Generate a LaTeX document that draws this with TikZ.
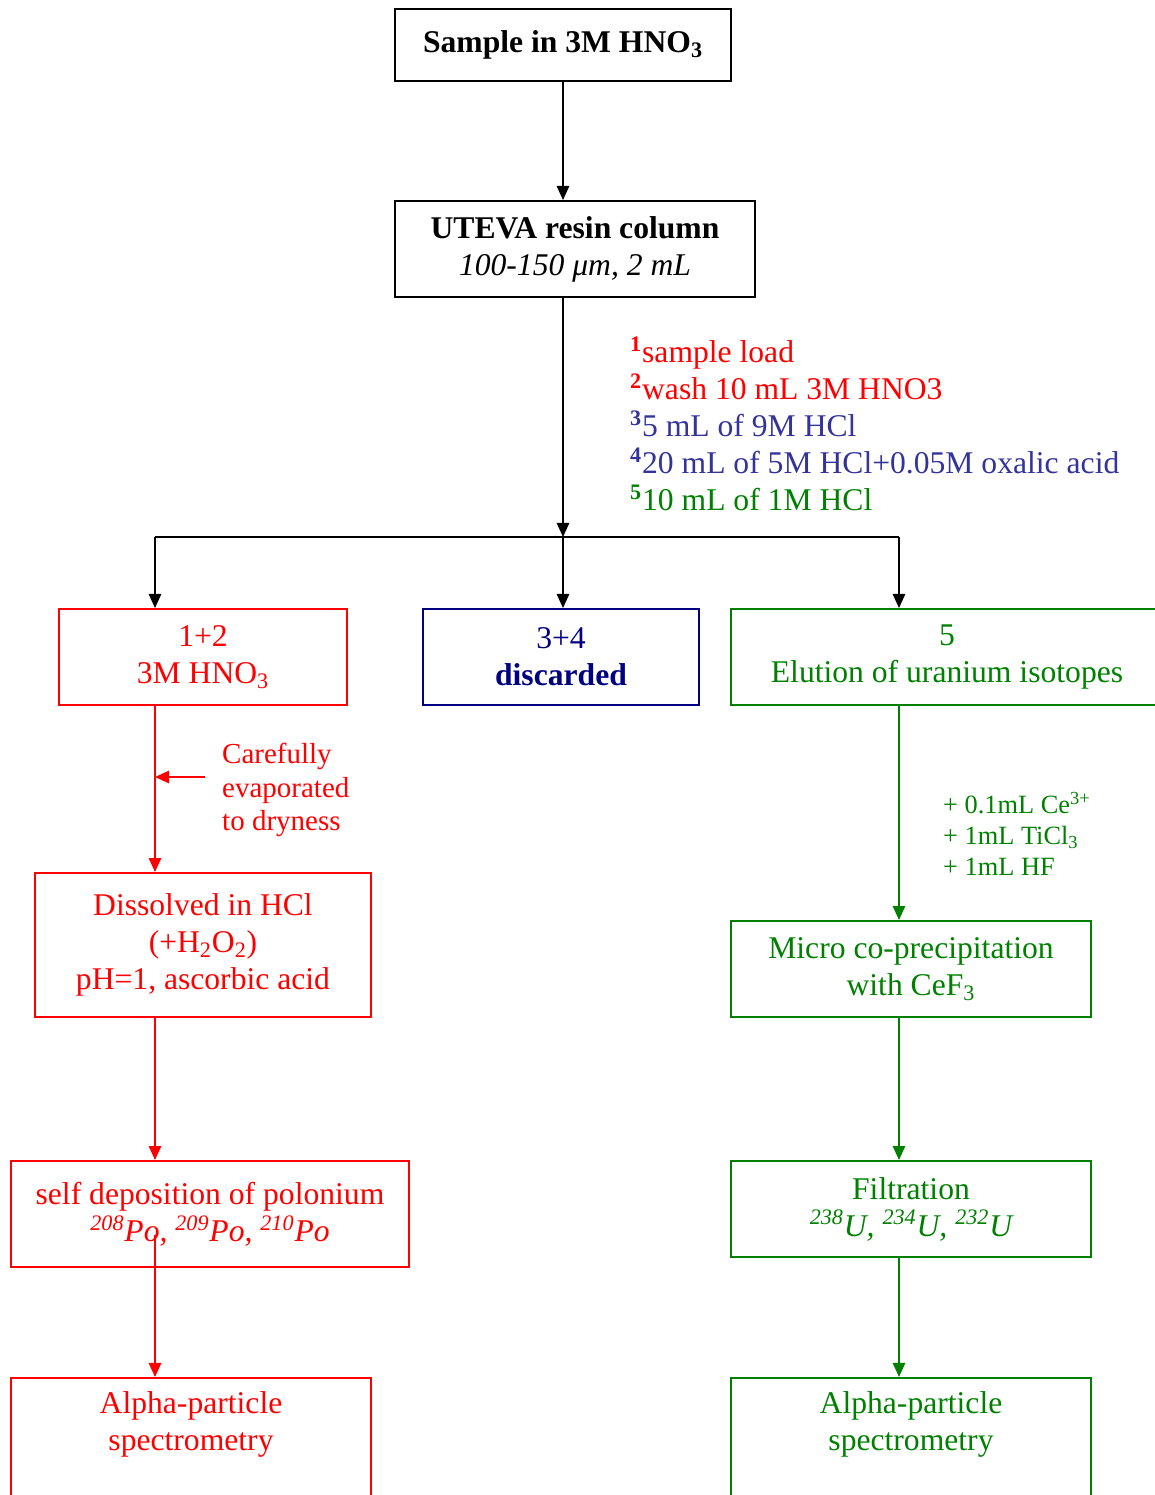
\documentclass[tikz,border=0pt]{standalone}
\usepackage{fontspec}
\setmainfont{Liberation Serif}
\usepackage{xcolor}
\usepackage{tikz}
\usetikzlibrary{arrows.meta, positioning, calc}
\definecolor{pored}{RGB}{255,0,0}
\definecolor{washblue}{RGB}{51,51,153}
\definecolor{discnavy}{RGB}{0,0,128}
\definecolor{ugreen}{RGB}{0,128,0}

\begin{document}
\begin{tikzpicture}[
    x=0.02cm, y=-0.02cm,
    font=\fontsize{18}{21}\selectfont,
    block/.style={rectangle, draw, line width=1.1pt, align=center, inner sep=2pt},
    flow/.style={-{Triangle[length=8pt, width=7pt]}, line width=1.1pt}
]
    \useasboundingbox (0,0) rectangle (1154,1495);

    % Column stage
    \node[block, minimum width=6.72cm, minimum height=1.44cm] (sample) at (563,45) {\textbf{Sample in 3M HNO\textsubscript{3}}};
    \node[block, minimum width=7.2cm, minimum height=1.92cm] (uteva) at (575,249) {\textbf{UTEVA resin column}\\\textit{100-150 μm, 2 mL}};
    \coordinate (split) at (563,537);
    \coordinate (polane) at (155,537);
    \coordinate (ulane) at (899,537);
    \draw[flow] (sample.south) -- (sample.south |- uteva.north);
    \draw[flow] (sample.south |- uteva.south) -- (split);

    % Elution steps
    \node[anchor=west, align=left] (steps) at (624,424) {%
        \textcolor{pored}{\textsuperscript{\textbf{1}}sample load}\\
        \textcolor{pored}{\textsuperscript{\textbf{2}}wash 10 mL 3M HNO3}\\
        \textcolor{washblue}{\textsuperscript{\textbf{3}}5 mL of 9M HCl}\\
        \textcolor{washblue}{\textsuperscript{\textbf{4}}20 mL of 5M HCl+0.05M oxalic acid}\\
        \textcolor{ugreen}{\textsuperscript{\textbf{5}}10 mL of 1M HCl}};

    % Fractions
    \node[block, draw=pored, text=pored, minimum width=5.76cm, minimum height=1.92cm] (frac12) at (203,657) {1+2\\3M HNO\textsubscript{3}};
    \node[block, draw=discnavy, text=discnavy, minimum width=5.52cm, minimum height=1.92cm] (frac34) at (561,657) {3+4\\\textbf{discarded}};
    \node[block, draw=ugreen, text=ugreen, minimum width=8.64cm, minimum height=1.92cm] (frac5) at (947,657) {5\\Elution of uranium isotopes};
    \draw[line width=1.1pt] (polane) -- (ulane);
    \draw[flow] (polane) -- (polane |- frac12.north);
    \draw[flow] (split) -- (split |- frac34.north);
    \draw[flow] (ulane) -- (ulane |- frac5.north);

    % Polonium branch
    \node[block, draw=pored, text=pored, minimum width=6.72cm, minimum height=2.88cm] (dissolved) at (203,945) {Dissolved in HCl\\(+H\textsubscript{2}O\textsubscript{2})\\pH=1, ascorbic acid};
    \node[block, draw=pored, text=pored, minimum width=7.96cm, minimum height=2.12cm] (selfdep) at (210,1214) {self deposition of polonium\\\itshape\textsuperscript{208}Po, \textsuperscript{209}Po, \textsuperscript{210}Po};
    \node[block, draw=pored, text=pored, anchor=north, minimum width=7.2cm, inner ysep=8pt] (alphapo) at (191,1377) {Alpha-particle\\spectrometry\\[42pt]~};
    \coordinate (evap) at (205,777);
    \coordinate (podep) at (155,1235);
    \node[anchor=west, align=left, text=pored, font=\fontsize{16.5}{19}\selectfont] (evaptext) at (216,790) {Carefully\\evaporated\\to dryness};
    \draw[flow, pored] (polane |- frac12.south) -- (polane |- dissolved.north);
    \draw[flow, pored] (evap) -- (evap -| polane);
    \draw[flow, pored] (polane |- dissolved.south) -- (polane |- selfdep.north);
    \draw[flow, pored] (podep) -- (podep |- alphapo.north);

    % Uranium branch
    \node[block, draw=ugreen, text=ugreen, minimum width=7.2cm, minimum height=1.92cm] (micro) at (911,969) {Micro co-precipitation\\with CeF\textsubscript{3}};
    \node[block, draw=ugreen, text=ugreen, minimum width=7.2cm, minimum height=1.92cm] (filtr) at (911,1209) {Filtration\\\itshape\textsuperscript{238}U, \textsuperscript{234}U, \textsuperscript{232}U};
    \node[block, draw=ugreen, text=ugreen, anchor=north, minimum width=7.2cm, inner ysep=8pt] (alphau) at (911,1377) {Alpha-particle\\spectrometry\\[42pt]~};
    \node[anchor=west, align=left, text=ugreen, font=\fontsize{15}{17.5}\selectfont] (reagents) at (937,834) {+ 0.1mL Ce\textsuperscript{3+}\\+ 1mL TiCl\textsubscript{3}\\+ 1mL HF};
    \draw[flow, ugreen] (ulane |- frac5.south) -- (ulane |- micro.north);
    \draw[flow, ugreen] (ulane |- micro.south) -- (ulane |- filtr.north);
    \draw[flow, ugreen] (ulane |- filtr.south) -- (ulane |- alphau.north);
\end{tikzpicture}
\end{document}
